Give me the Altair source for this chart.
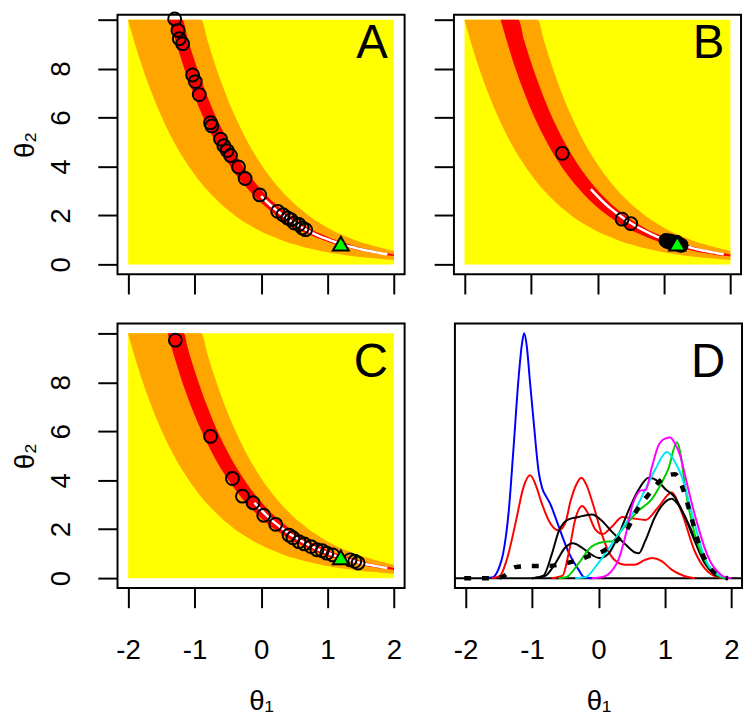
import altair as alt
import pandas as pd

# ---------------- panels A-C : likelihood bands ----------------
band_x = [-2.0, -1.9, -1.8, -1.7, -1.6, -1.5, -1.4, -1.3, -1.2, -1.1, -1.0, -0.9, -0.8, -0.7,
          -0.6, -0.5, -0.4, -0.3, -0.2, -0.1, 0.0, 0.1, 0.2, 0.3, 0.4, 0.5, 0.6, 0.7, 0.8, 0.9,
          1.0, 1.1, 1.2, 1.3, 1.4, 1.5, 1.6, 1.7, 1.8, 1.9, 2.0]
orange_lo = [9.98, 9.03, 8.17, 7.39, 6.69, 6.05, 5.47, 4.95, 4.48, 4.06, 3.67, 3.32, 3.01, 2.72,
             2.46, 2.23, 2.01, 1.82, 1.65, 1.49, 1.35, 1.22, 1.11, 1.00, 0.90, 0.82, 0.74, 0.67,
             0.61, 0.55, 0.50, 0.45, 0.41, 0.37, 0.33, 0.30, 0.27, 0.25, 0.22, 0.20, 0.18]
orange_hi = [10, 10, 10, 10, 10, 10, 10, 10, 10, 10, 10, 10, 9.10, 8.24,
             7.45, 6.74, 6.10, 5.52, 4.99, 4.52, 4.09, 3.70, 3.35, 3.03, 2.74, 2.48, 2.25, 2.03,
             1.84, 1.66, 1.50, 1.36, 1.23, 1.12, 1.01, 0.91, 0.83, 0.75, 0.68, 0.61, 0.55]

red_tail_x = [-1.1, -1.0, -0.9, -0.8, -0.7, -0.6, -0.5, -0.4, -0.3, -0.2, -0.1, 0.0, 0.1, 0.2,
              0.3, 0.4, 0.5, 0.6, 0.7, 0.8, 0.9, 1.0, 1.1, 1.2, 1.3, 1.4, 1.5, 1.6, 1.7, 1.8,
              1.9, 2.0]
# panel A red band
a_red_x = [-1.38, -1.35, -1.3, -1.25, -1.2, -1.185] + red_tail_x
a_red_lo = [10, 9.72, 9.25, 8.80, 8.37, 8.24, 7.57, 6.85, 6.20, 5.61, 5.08, 4.59, 4.16, 3.76,
            3.40, 3.08, 2.78, 2.52, 2.28, 2.06, 1.87, 1.69, 1.53, 1.38, 1.25, 1.13, 1.03, 0.93,
            0.84, 0.76, 0.69, 0.62, 0.56, 0.51, 0.46, 0.42, 0.38, 0.34]
a_red_hi = [10, 10, 10, 10, 10, 10, 9.19, 8.32, 7.53, 6.81, 6.16, 5.58, 5.05, 4.57,
            4.13, 3.74, 3.38, 3.06, 2.77, 2.51, 2.27, 2.05, 1.86, 1.68, 1.52, 1.37, 1.25, 1.13,
            1.02, 0.92, 0.84, 0.76, 0.68, 0.62, 0.56, 0.50, 0.46, 0.41]
# panel B red band
b_red_x = [-1.457, -1.4, -1.35, -1.3, -1.25, -1.19] + red_tail_x
b_red_lo = [10, 9.45, 8.99, 8.55, 8.13, 7.66, 7.00, 6.33, 5.73, 5.19, 4.69, 4.25, 3.84, 3.48,
            3.15, 2.85, 2.57, 2.33, 2.11, 1.91, 1.73, 1.56, 1.41, 1.28, 1.16, 1.05, 0.95, 0.86,
            0.78, 0.70, 0.64, 0.58, 0.52, 0.47, 0.43, 0.38, 0.35, 0.32]
b_red_hi = [10, 10, 10, 10, 10, 10, 9.13, 8.26, 7.48, 6.77, 6.12, 5.54, 5.01, 4.54,
            4.10, 3.71, 3.36, 3.04, 2.75, 2.49, 2.25, 2.04, 1.85, 1.67, 1.51, 1.36, 1.24, 1.12,
            1.01, 0.92, 0.83, 0.75, 0.68, 0.61, 0.56, 0.50, 0.46, 0.41]
# panel C red band
c_red_x = [-1.406, -1.35, -1.3, -1.25, -1.2, -1.165] + red_tail_x
c_red_lo = [10, 9.45, 8.99, 8.55, 8.13, 7.85, 7.36, 6.66, 6.03, 5.45, 4.93, 4.46, 4.04, 3.66,
            3.31, 2.99, 2.71, 2.45, 2.22, 2.01, 1.82, 1.64, 1.49, 1.35, 1.22, 1.10, 1.00, 0.90,
            0.82, 0.74, 0.67, 0.61, 0.55, 0.49, 0.45, 0.40, 0.37, 0.33]
c_red_hi = [10, 10, 10, 10, 10, 10, 9.37, 8.48, 7.68, 6.95, 6.28, 5.68, 5.14, 4.65,
            4.21, 3.81, 3.45, 3.12, 2.82, 2.55, 2.31, 2.09, 1.89, 1.71, 1.55, 1.40, 1.27, 1.15,
            1.04, 0.94, 0.85, 0.77, 0.70, 0.63, 0.57, 0.52, 0.47, 0.42]

white_x = [-0.1, 0.0, 0.1, 0.2, 0.3, 0.4, 0.5, 0.6, 0.7, 0.8, 0.9, 1.0, 1.1, 1.2, 1.3, 1.4, 1.5,
           1.6, 1.7, 1.8, 1.9]
white_y = [3.08, 2.79, 2.52, 2.28, 2.07, 1.87, 1.69, 1.53, 1.39, 1.25, 1.13, 1.03, 0.93, 0.84,
           0.76, 0.69, 0.62, 0.56, 0.51, 0.46, 0.42]

# sampled points
a_t1 = [-1.30, -1.25, -1.23, -1.18, -1.03, -0.99, -0.93, -0.76, -0.74, -0.61, -0.56, -0.51,
        -0.46, -0.34, -0.24, -0.02, 0.25, 0.33, 0.40, 0.45, 0.50, 0.57, 0.62, 0.67]
a_t2 = [10.03, 9.56, 9.22, 9.02, 7.74, 7.47, 6.94, 5.79, 5.66, 5.12, 4.85, 4.65,
        4.45, 3.98, 3.51, 2.84, 2.17, 2.03, 1.90, 1.83, 1.69, 1.63, 1.49, 1.42]
b_t1 = [-0.53, 0.37, 0.50, 1.03, 1.05, 1.07, 1.09, 1.10, 1.12, 1.13, 1.15, 1.16, 1.18, 1.20,
        1.22, 1.24, 1.26, 1.11, 1.14, 1.19]
b_t2 = [4.54, 1.85, 1.67, 0.98, 0.95, 0.93, 0.96, 0.90, 0.92, 0.88, 0.90, 0.85, 0.88, 0.84,
        0.82, 0.80, 0.78, 0.94, 0.86, 0.91]
c_t1 = [-1.29, -0.76, -0.43, -0.28, -0.12, 0.04, 0.22, 0.42, 0.48, 0.57, 0.65, 0.75, 0.84,
        0.92, 0.99, 1.08, 1.34, 1.41, 1.46]
c_t2 = [9.72, 5.79, 4.07, 3.35, 3.08, 2.57, 2.20, 1.76, 1.65, 1.49, 1.40, 1.29, 1.16,
        1.12, 1.02, 0.95, 0.75, 0.69, 0.62]
true_t1 = [1.2]
true_t2 = [0.85]

# ---------------- panel D : densities ----------------
blue_x = [-1.75, -1.6, -1.5, -1.435, -1.35, -1.28, -1.2, -1.15, -1.118, -1.08, -1.03, -0.974,
          -0.9, -0.85, -0.78, -0.72, -0.65, -0.59, -0.44, -0.3, -0.22, -0.1]
blue_y = [0, 0.005, 0.08, 0.2, 0.55, 1.05, 1.65, 1.92, 2.0, 1.9, 1.6, 1.27,
          0.87, 0.74, 0.66, 0.6, 0.5, 0.41, 0.2, 0.07, 0.01, 0]
red1_x = [-1.6, -1.48, -1.38, -1.24, -1.13, -1.03, -0.93, -0.865, -0.716, -0.6, -0.5, -0.42,
          -0.32, -0.256, -0.18, -0.08, 0.05, 0.15, 0.26, 0.4, 0.55, 0.7, 0.81, 0.95, 1.1, 1.3, 1.45]
red1_y = [0, 0.02, 0.15, 0.47, 0.74, 0.84, 0.74, 0.63, 0.44, 0.39, 0.45, 0.63,
          0.78, 0.82, 0.76, 0.6, 0.36, 0.22, 0.14, 0.11, 0.11, 0.15, 0.164, 0.14, 0.07, 0.016, 0]
red2_x = [-0.7, -0.54, -0.45, -0.35, -0.245, -0.15, -0.05, 0.06, 0.2, 0.36, 0.5, 0.71, 0.9,
          1.1, 1.25, 1.45, 1.64, 1.85]
red2_y = [0, 0.02, 0.2, 0.48, 0.59, 0.52, 0.4, 0.36, 0.42, 0.5, 0.49, 0.476, 0.58,
          0.70, 0.54, 0.218, 0.056, 0]
blk1_x = [-1.0, -0.83, -0.7, -0.6, -0.45, -0.3, -0.1, 0.05, 0.2, 0.4, 0.55, 0.607, 0.7, 0.85,
          1.0, 1.1, 1.2, 1.35, 1.5, 1.65, 1.8, 1.9]
blk1_y = [0, 0.02, 0.2, 0.38, 0.48, 0.5, 0.52, 0.47, 0.38, 0.28, 0.21, 0.204, 0.3, 0.5,
          0.62, 0.648, 0.6, 0.45, 0.26, 0.1, 0.02, 0]
blk2_x = [-1.0, -0.8, -0.65, -0.5, -0.384, -0.25, -0.1, 0.01, 0.15, 0.3, 0.45, 0.6, 0.755,
          0.9, 1.0, 1.15, 1.3, 1.45, 1.6, 1.75, 1.9]
blk2_y = [0, 0.02, 0.12, 0.25, 0.285, 0.25, 0.19, 0.164, 0.2, 0.35, 0.55, 0.72, 0.82,
          0.79, 0.73, 0.66, 0.5, 0.3, 0.12, 0.03, 0]
grn_x = [-0.6, -0.48, -0.3, -0.1, 0.11, 0.2, 0.3, 0.45, 0.6, 0.806, 0.95, 1.05, 1.18, 1.24,
         1.3, 1.45, 1.64, 1.8, 1.9]
grn_y = [0, 0.01, 0.12, 0.26, 0.298, 0.3, 0.36, 0.46, 0.55, 0.648, 0.78, 0.89, 1.11, 1.0,
         0.758, 0.355, 0.11, 0.02, 0]
cyn_x = [-0.35, -0.19, -0.04, 0.1, 0.26, 0.4, 0.56, 0.7, 0.855, 1.03, 1.15, 1.25, 1.4, 1.5,
         1.6, 1.72, 1.85, 1.95]
cyn_y = [0, 0.01, 0.097, 0.2, 0.325, 0.44, 0.567, 0.72, 0.89, 1.03, 0.95, 0.836, 0.54, 0.34,
         0.164, 0.06, 0.016, 0]
mag_x = [-0.1, 0.06, 0.2, 0.3, 0.41, 0.51, 0.6, 0.63, 0.71, 0.8, 0.9, 1.0, 1.08, 1.15, 1.23,
         1.32, 1.4, 1.5, 1.6, 1.7, 1.79, 1.9, 2.0]
mag_y = [0, 0.01, 0.06, 0.15, 0.355, 0.594, 0.7, 0.715, 0.72, 0.9, 1.08, 1.14, 1.15, 1.1, 1.0,
         0.8, 0.62, 0.42, 0.244, 0.12, 0.056, 0.01, 0]
dash_x = [-2.02, -1.6, -1.45, -1.37, -1.25, -1.0, -0.78, -0.5, -0.29, -0.1, 0.06, 0.26, 0.455,
          0.56, 0.75, 0.9, 1.05, 1.15, 1.27, 1.375, 1.55, 1.7, 1.85, 1.95]
dash_y = [0, 0, 0.01, 0.04, 0.09, 0.1, 0.1, 0.12, 0.15, 0.19, 0.218, 0.298, 0.42,
          0.54, 0.68, 0.78, 0.84, 0.85, 0.73, 0.54, 0.218, 0.07, 0.01, 0]

FONT = "Liberation Sans"
W = 291
VIEW = alt.ViewBackground(stroke="black", strokeWidth=2)
XDOM = [-2.16, 2.16]


def x_enc(labels):
    ax = alt.Axis(values=[-2, -1, 0, 1, 2], labels=labels, tickSize=20, tickWidth=2,
                  tickColor="black", domain=False, grid=False, labelFontSize=28,
                  labelFont=FONT, labelColor="black", labelPadding=29,
                  labelExpr="'' + datum.value", titleFont=FONT, titleFontSize=28,
                  titleFontWeight="normal", titleColor="black", titlePadding=24)
    return alt.X("x:Q", scale=alt.Scale(domain=XDOM, nice=False, zero=False), axis=ax,
                 title="θ₁" if labels else None)


def y_enc(labels, ydom):
    ax = alt.Axis(values=[0, 2, 4, 6, 8, 10], labels=labels, tickSize=20, tickWidth=2,
                  tickColor="black", domain=False, grid=False, labelFontSize=28,
                  labelFont=FONT, labelColor="black", labelPadding=23, labelAngle=-90,
                  labelAlign="center", labelBaseline="bottom",
                  labelExpr="datum.value == 10 ? '' : '' + datum.value",
                  titleFont=FONT, titleFontSize=28, titleFontWeight="normal",
                  titleColor="black", titlePadding=8)
    return alt.Y("y:Q", scale=alt.Scale(domain=ydom, nice=False, zero=False), axis=ax,
                 title="θ₂" if labels else None)


def band_panel(pt1, pt2, rx, rlo, rhi, wstart, letter, xlab, ylab, lab_y, ydom, h, top):
    X = x_enc(xlab)
    Y = y_enc(ylab, ydom)
    bg = alt.Chart(pd.DataFrame({"x": [-2.0], "x2": [2.0], "y": [0.0], "y2": [10.0]})).mark_rect(
        color="#FFFF00").encode(x=X, x2="x2:Q", y=Y, y2="y2:Q")
    orange = alt.Chart(pd.DataFrame({"x": band_x, "y": orange_lo, "y2": orange_hi})).mark_area(
        color="#FFA500", interpolate="monotone").encode(x=X, y=Y, y2="y2:Q")
    red = alt.Chart(pd.DataFrame({"x": rx, "y": rlo, "y2": rhi})).mark_area(
        color="#FF0000", interpolate="monotone").encode(x=X, y=Y, y2="y2:Q")
    white = alt.Chart(pd.DataFrame({"x": white_x[wstart:], "y": white_y[wstart:]})).mark_line(
        color="white", strokeWidth=2.5, interpolate="monotone").encode(x=X, y=Y)
    pts = alt.Chart(pd.DataFrame({"x": pt1, "y": pt2})).mark_point(
        shape="circle", filled=False, stroke="black", strokeWidth=2, size=170,
        opacity=1).encode(x=X, y=Y)
    tri = alt.Chart(pd.DataFrame({"x": true_t1, "y": true_t2})).mark_point(
        shape="triangle-up", filled=True, fill="#00FF00", stroke="black", strokeWidth=2,
        size=260, opacity=1).encode(x=X, y=Y)
    txt = alt.Chart(pd.DataFrame({"t": [letter]})).mark_text(
        font=FONT, fontSize=48, align="right", baseline="alphabetic", color="black").encode(
        text="t:N", x=alt.value(274), y=alt.value(lab_y))
    layers = [bg, orange, red, white, pts, tri, txt]
    if top:
        # white spacer far above the frame (outside the visible page) fixes the top extent
        layers.append(alt.Chart(pd.DataFrame({"t": [0]})).mark_rule(
            color="white", strokeWidth=1).encode(x=alt.value(0), x2=alt.value(10),
                                                 y=alt.value(-40)))
    return alt.layer(*layers).properties(width=W, height=h, view=VIEW)


TOP_DOM, TOP_H = [-0.4, 10.2], 263
BOT_DOM, BOT_H = [-0.4, 10.4], 268
A = band_panel(a_t1, a_t2, a_red_x, a_red_lo, a_red_hi, 1, "A", False, True, 44, TOP_DOM, TOP_H, True)
B = band_panel(b_t1, b_t2, b_red_x, b_red_lo, b_red_hi, 0, "B", False, False, 44, TOP_DOM, TOP_H, True)
C = band_panel(c_t1, c_t2, c_red_x, c_red_lo, c_red_hi, 0, "C", True, True, 54, BOT_DOM, BOT_H, False)

# panel D
XD = x_enc(True)
YD = alt.Y("y:Q", scale=alt.Scale(domain=[-0.08, 2.08], nice=False, zero=False), axis=None)
series = [
    ("blue", blue_x, blue_y, "#0000FF"),
    ("red1", red1_x, red1_y, "#FF0000"),
    ("red2", red2_x, red2_y, "#FF0000"),
    ("blk1", blk1_x, blk1_y, "black"),
    ("blk2", blk2_x, blk2_y, "black"),
    ("grn", grn_x, grn_y, "#00CD00"),
    ("cyn", cyn_x, cyn_y, "#00E5EE"),
    ("mag", mag_x, mag_y, "#FF00FF"),
]
d_layers = []
zero = alt.Chart(pd.DataFrame({"y": [0.0]})).mark_rule(color="black", strokeWidth=2).encode(y=YD)
d_layers.append(zero)
for name, xs, ys, col in series:
    d_layers.append(alt.Chart(pd.DataFrame({"x": xs, "y": ys})).mark_line(
        color=col, strokeWidth=2, interpolate="monotone").encode(x=XD, y=YD))
d_layers.append(alt.Chart(pd.DataFrame({"x": dash_x, "y": dash_y})).mark_line(
    color="black", strokeWidth=4.5, strokeDash=[7, 11], interpolate="monotone").encode(x=XD, y=YD))
d_layers.append(alt.Chart(pd.DataFrame({"t": ["D"]})).mark_text(
    font=FONT, fontSize=48, align="right", baseline="alphabetic", color="black").encode(
    text="t:N", x=alt.value(274), y=alt.value(54)))
D = alt.layer(*d_layers).properties(width=W, height=BOT_H, view=VIEW)

top = alt.hconcat(A, B, spacing=27)
bot = alt.hconcat(C, D, spacing=47)
chart = alt.vconcat(top, bot, spacing=27).properties(
    padding={"left": 2, "top": -40, "right": 0, "bottom": 0}, background="white"
)

chart.save("out.html", embed_options={"renderer": "svg", "actions": False})
